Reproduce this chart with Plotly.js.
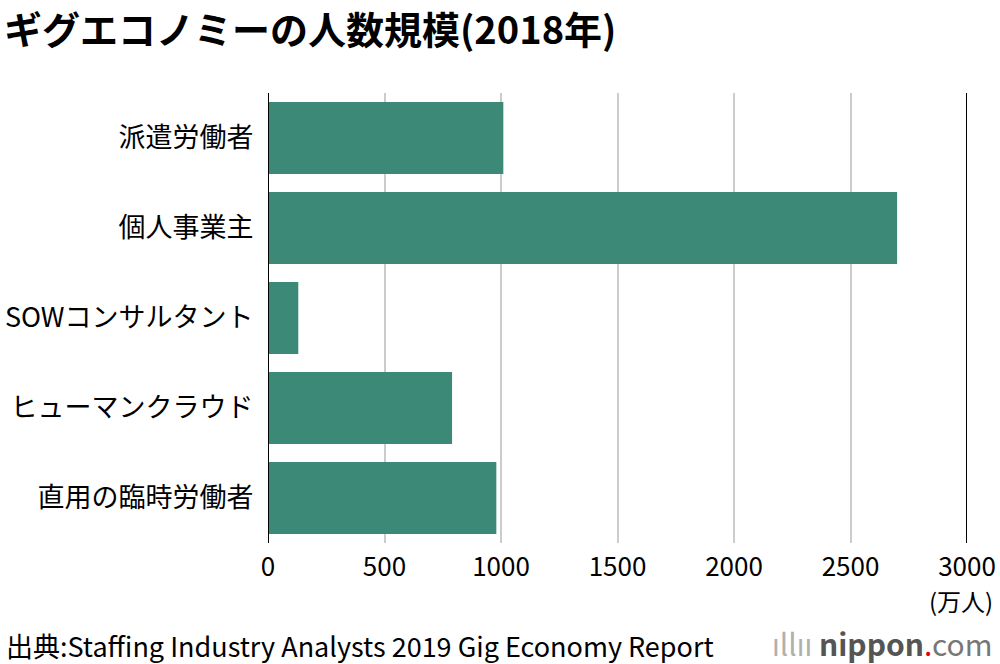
<!DOCTYPE html>
<html><head><meta charset="utf-8">
<script src="https://cdn.plot.ly/plotly-3.0.1.min.js"></script>
<style>body{margin:0;background:#fff}#c{width:1000px;height:664px}</style>
</head><body><div id="c"></div>
<script>
const categories = ["派遣労働者","個人事業主","SOWコンサルタント","ヒューマンクラウド","直用の臨時労働者"];
const values = [1010, 2700, 130, 790, 980];
const tickVals = [0,500,1000,1500,2000,2500,3000];
const tickText = ["0","500","1000","1500","2000","2500","3000"];
const F = '"Noto Sans CJK JP", "Noto Sans", sans-serif';

const trace = {
  type:'bar', orientation:'h', x: values, y: categories,
  marker:{color:'#3d8978'}, hoverinfo:'none'
};
const PW = 699, PH = 450;
const layout = {
  width:1000, height:664,
  margin:{l:268, r:33, t:93, b:121},
  paper_bgcolor:'#fff', plot_bgcolor:'#fff',
  showlegend:false, bargap:0.2,
  font:{family:F, color:'#000'},
  title:{text:'<b>ギグエコノミーの人数規模(2018年)</b>', x:0.004, xanchor:'left', y:1-31/664, yanchor:'middle', font:{size:38, family:F, color:'#000'}},
  xaxis:{range:[0,3000], tickvals:tickVals, ticktext:tickText, showgrid:true, gridcolor:'#cccccc', gridwidth:2,
    zeroline:false, showline:false, ticks:'', ticklabelstandoff:6, tickfont:{size:26, family:F, color:'#000'}, fixedrange:true},
  yaxis:{autorange:'reversed', showgrid:false, zeroline:false, showline:false, ticks:'outside', ticklen:8, tickcolor:'rgba(0,0,0,0)',
    tickfont:{size:27, family:F, color:'#000'}, fixedrange:true},
  shapes:[
    {type:'line', xref:'x', yref:'paper', x0:0, x1:0, y0:0, y1:1, line:{color:'#000', width:2}},
    {type:'line', xref:'x', yref:'paper', x0:3000, x1:3000, y0:0, y1:1, line:{color:'#000', width:2}}
  ],
  annotations:[
    {text:'(万人)', xref:'paper', yref:'paper', x:(995-268)/PW, y:-(600-543)/PH, xanchor:'right', yanchor:'middle', showarrow:false, font:{size:24, family:F, color:'#000'}},
    {text:'出典:Staffing Industry Analysts 2019 Gig Economy Report', xref:'paper', yref:'paper', x:-264/PW, y:-(645-543)/PH, xanchor:'left', yanchor:'middle', showarrow:false, font:{size:27, family:F, color:'#000'}},
    {text:'<span style="color:#b0b0b0">ıllıı</span> <b>nippon</b><span style="color:#e60012">.</span><span style="color:#777">com</span>', xref:'paper', yref:'paper', x:(995-268)/PW, y:-(643-543)/PH, xanchor:'right', yanchor:'middle', showarrow:false, font:{size:30, family:F, color:'#555'}}
  ]
};
Plotly.newPlot('c',[trace],layout,{displayModeBar:false,staticPlot:true});
</script></body></html>
